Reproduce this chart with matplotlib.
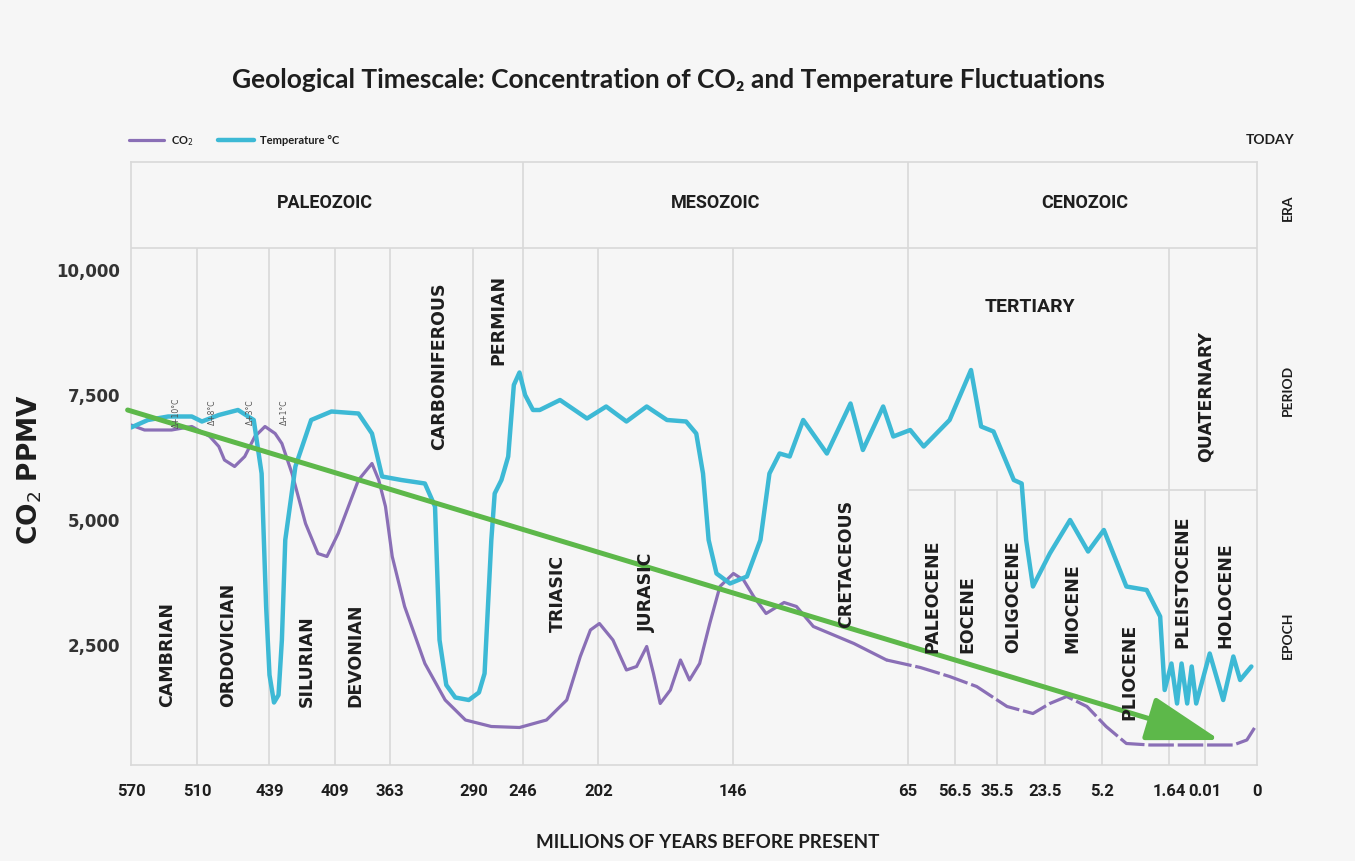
import matplotlib
matplotlib.use("Agg")
import matplotlib.pyplot as plt

# ---------------- data ----------------
age_tick_labels = ["570", "510", "439", "409", "363", "290", "246", "202", "146",
                   "65", "56.5", "35.5", "23.5", "5.2", "1.64", "0.01", "0"]
boundary_pos = [0, 5.9, 12.3, 18.1, 23.0, 30.4, 34.8, 41.5, 53.5,
                69.0, 73.2, 76.9, 81.2, 86.2, 92.2, 95.4, 100]

yticks = [2500, 5000, 7500, 10000]
ytick_labels = ["2,500", "5,000", "7,500", "10,000"]

temp_x = [0.0, 1.5, 3.3, 5.4, 6.3, 7.8, 9.5, 10.9, 11.6, 12.0, 12.3, 12.7, 13.1,
          13.4, 13.7, 14.6, 16.0, 17.8, 20.2, 21.4, 22.3, 24.0, 26.1, 27.0, 27.4,
          28.0, 28.8, 30.0, 30.9, 31.4, 32.0, 32.3, 32.9, 33.5, 34.0, 34.5, 35.0,
          35.7, 36.3, 38.1, 40.5, 42.2, 44.0, 45.8, 47.6, 49.3, 50.2, 50.8, 51.3,
          52.0, 53.2, 54.7, 55.9, 56.7, 57.6, 58.5, 59.7, 61.8, 63.9, 65.0, 66.8,
          67.7, 69.2, 70.4, 72.7, 74.6, 75.5, 76.6, 78.4, 79.1, 79.5, 80.1, 81.6,
          83.4, 85.0, 86.4, 88.4, 90.2, 91.4, 91.8, 92.4, 92.9, 93.3, 93.8, 94.2,
          94.6, 95.8, 97.0, 97.9, 98.5, 99.5]
temp_y = [6850, 7000, 7070, 7070, 6970, 7100, 7200, 7000, 5930, 3270, 1900, 1350, 1500,
          2600, 4600, 6070, 7000, 7170, 7130, 6730, 5870, 5800, 5730, 5270, 2600,
          1700, 1450, 1400, 1550, 1930, 4600, 5530, 5800, 6270, 7700, 7950, 7500,
          7200, 7200, 7400, 7030, 7270, 6970, 7270, 7000, 6970, 6730, 5930, 4600,
          3930, 3730, 3870, 4600, 5930, 6330, 6270, 7000, 6330, 7330, 6400, 7270,
          6670, 6800, 6470, 7000, 8000, 6870, 6770, 5800, 5730, 4600, 3670, 4330,
          5000, 4370, 4800, 3670, 3600, 3070, 1600, 2130, 1330, 2130, 1330, 2070,
          1330, 2330, 1400, 2270, 1800, 2070]

co2_x = [0.0, 1.2, 3.6, 5.4, 7.0, 7.8, 8.3, 9.2, 10.1, 11.0, 11.9, 12.8, 13.4,
         14.3, 15.5, 16.6, 17.4, 18.4, 20.2, 21.4, 22.0, 22.6, 23.2, 24.3, 26.1,
         27.9, 29.7, 32.0, 34.5, 36.9, 38.7, 39.9, 40.8, 41.6, 42.8, 44.0, 44.9,
         45.8, 46.4, 47.0, 47.9, 48.8, 49.6, 50.5, 51.4, 52.3, 53.5, 54.4, 55.3,
         56.4, 58.0, 59.1, 60.6, 64.2, 67.1]
co2_y = [6900, 6800, 6800, 6870, 6670, 6470, 6200, 6070, 6270, 6670, 6870, 6730, 6530,
         5930, 4930, 4330, 4270, 4730, 5800, 6130, 5800, 5270, 4270, 3270, 2130,
         1400, 1000, 870, 850, 1000, 1400, 2270, 2800, 2930, 2600, 2000, 2070,
         2470, 1930, 1330, 1600, 2200, 1800, 2130, 2930, 3670, 3930, 3800, 3470,
         3130, 3350, 3270, 2870, 2530, 2200]
co2_late_x = [67.1, 70.1, 72.7, 75.1, 77.8, 80.1, 81.6, 83.1, 84.9, 86.6, 88.4,
              90.5, 97.9, 99.1, 99.8]
co2_late_y = [2200, 2050, 1870, 1670, 1270, 1130, 1330, 1470, 1270, 870, 530,
              500, 500, 600, 850]

trend_start = (-0.3, 7200)
trend_end = (96.7, 600)

eras = ["PALEOZOIC", "MESOZOIC", "CENOZOIC"]
periods = ["CAMBRIAN", "ORDOVICIAN", "SILURIAN", "DEVONIAN", "CARBONIFEROUS",
           "PERMIAN", "TRIASIC", "JURASIC", "CRETACEOUS"]
epochs = ["PALEOCENE", "EOCENE", "OLIGOCENE", "MIOCENE", "PLIOCENE",
          "PLEISTOCENE", "HOLOCENE"]
delta_labels = ["Δ+10°C", "Δ+8°C", "Δ+3°C", "Δ+1°C"]

# ---------------- style ----------------
BG = "#f6f6f6"
GRID = "#d9d9d9"
PURPLE = "#8a6fb6"
CYAN = "#3db9d5"
GREEN = "#5db84a"
TXT = "#1e1e1e"
FAM = ["Lato", "DejaVu Sans"]
NARROW = ["Liberation Sans Narrow", "Roboto", "DejaVu Sans"]
WIDE = ["DejaVu Sans"]
plt.rcParams["font.family"] = FAM

fig = plt.figure(figsize=(13.55, 8.61), dpi=100, facecolor=BG)
ax = fig.add_axes([131 / 1355, 1 - 765 / 861, 1126 / 1355, 603 / 861])
ax.set_facecolor(BG)
YMIN, YMAX = 100, 12160
ax.set_xlim(0, 100)
ax.set_ylim(YMIN, YMAX)

for s in ax.spines.values():
    s.set_color(GRID)
    s.set_linewidth(1.2)

ERA_BOT = 10440
EPOCH_TOP = 5600
era_bounds = [34.8, 69.0]
cenozoic_epoch_bounds = [73.2, 76.9, 81.2, 86.2, 95.4]
for p in boundary_pos[1:-1]:
    if p in era_bounds:
        top = YMAX
    elif p in cenozoic_epoch_bounds:
        top = EPOCH_TOP
    else:
        top = ERA_BOT
    ax.vlines(p, YMIN, top, color=GRID, lw=1.2, zorder=1)
ax.hlines(ERA_BOT, 0, 100, color=GRID, lw=1.2, zorder=1)
ax.hlines(EPOCH_TOP, 69.0, 100, color=GRID, lw=1.2, zorder=1)

# curves
ax.plot(co2_x, co2_y, color=PURPLE, lw=2.3, solid_joinstyle="round",
        solid_capstyle="round", zorder=3, label="CO$_2$")
ax.plot(co2_late_x, co2_late_y, color=PURPLE, lw=2.3, zorder=3,
        dashes=(8, 1.2))
ax.plot(temp_x, temp_y, color=CYAN, lw=3.2, solid_joinstyle="round",
        solid_capstyle="round", zorder=4, label="Temperature °C")

ax.annotate("", xy=trend_end, xytext=trend_start,
            arrowprops=dict(arrowstyle="-|>,head_length=2.3,head_width=0.7",
                            mutation_scale=20, lw=3.6, color=GREEN,
                            shrinkA=0, shrinkB=0),
            zorder=5, annotation_clip=False)

# axis ticks
ax.set_xticks(boundary_pos)
ax.set_xticklabels(age_tick_labels, family=NARROW, fontweight="bold",
                   fontsize=12, color=TXT)
ax.set_yticks(yticks)
ax.set_yticklabels(ytick_labels, fontsize=12, fontweight="bold", color="#333333",
                   family=WIDE)
ax.tick_params(axis="both", length=0)
ax.tick_params(axis="x", pad=14)
ax.tick_params(axis="y", pad=8)

# era / period / epoch labels
era_x = [17.2, 51.9, 84.7]
for name, x in zip(eras, era_x):
    ax.text(x, 11350, name, ha="center", va="center", fontsize=13,
            fontweight="bold", color=TXT, family=NARROW)
ax.text(79.8, 9260, "TERTIARY", ha="center", va="center", fontsize=14,
        fontweight="bold", color=TXT, family=NARROW)
ax.text(95.4, 6160, "QUATERNARY", ha="center", va="bottom", rotation=90,
        fontsize=12.5, fontweight="bold", color=TXT, family=WIDE)

period_x = [3.2, 8.6, 15.6, 19.9, 27.4, 32.6, 37.9, 45.8, 63.5]
period_y = [1260, 1260, 1260, 1260, 6400, 8100, 2760, 2760, 2840]
for name, x, y in zip(periods, period_x, period_y):
    ax.text(x, y, name, ha="center", va="bottom", rotation=90, fontsize=12.5,
            fontweight="bold", color=TXT, family=WIDE, zorder=6)

epoch_x = [71.2, 74.3, 78.3, 83.6, 88.7, 93.4, 97.2]
epoch_y = [2340, 2340, 2340, 2340, 1000, 2440, 2440]
for name, x, y in zip(epochs, epoch_x, epoch_y):
    ax.text(x, y, name, ha="center", va="bottom", rotation=90, fontsize=12.5,
            fontweight="bold", color=TXT, family=WIDE, zorder=6)

delta_x = [4.0, 7.2, 10.6, 13.6]
for lab, x in zip(delta_labels, delta_x):
    ax.text(x, 7150, lab, ha="center", va="center", rotation=90, fontsize=5.5,
            color="#555555", family=WIDE, zorder=6)

# row labels on the right
for lab, y in zip(["ERA", "PERIOD", "EPOCH"], [11250, 7600, 2700]):
    ax.text(102.7, y, lab, ha="center", va="center", rotation=90, fontsize=10,
            fontweight="bold", color=TXT, clip_on=False)
ax.text(101.2, 12600, "TODAY", ha="center", va="center", fontsize=10,
        fontweight="bold", color=TXT, clip_on=False)

leg = ax.legend(loc="center left", bbox_to_anchor=(-0.006, 1.035), ncol=2,
                frameon=False, fontsize=8, handlelength=3.2, columnspacing=2.2,
                handletextpad=0.6, borderaxespad=0)
for t in leg.get_texts():
    t.set_fontweight("bold")
    t.set_color(TXT)

fig.text(668 / 1355, 1 - 80 / 861,
         "Geological Timescale: Concentration of CO\u2082 and Temperature Fluctuations",
         ha="center", va="center", fontsize=19, fontweight="bold", color=TXT,
         family=FAM)
fig.text(30 / 1355, 1 - 470 / 861, "CO$_2$ PPMV", rotation=90, ha="center",
         va="center", fontsize=19, fontweight="bold", color=TXT, family=WIDE)
fig.text(708 / 1355, 1 - 843 / 861, "MILLIONS OF YEARS BEFORE PRESENT",
         ha="center", va="center", fontsize=13.5, fontweight="bold", color=TXT)

fig.savefig("out.png", dpi=100, facecolor=BG)
